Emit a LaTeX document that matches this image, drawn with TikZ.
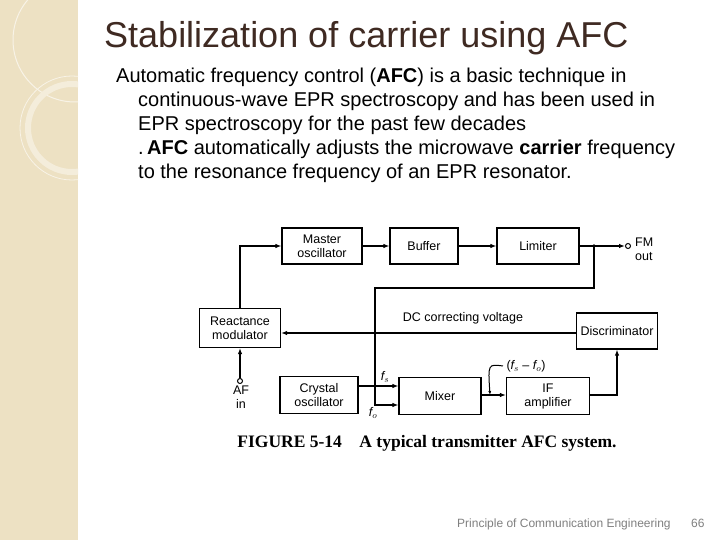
\documentclass[tikz,border=0pt]{standalone}
\usepackage{fontspec}
\setmainfont{Liberation Sans}
\newfontfamily\capfont{Liberation Serif}
\usetikzlibrary{arrows.meta}
\definecolor{strip}{HTML}{EDE1C3}
\definecolor{ttl}{HTML}{3F2A22}
\begin{document}
\begin{tikzpicture}[x=1pt,y=-1pt,
  blk/.style={draw,line width=1.2pt,minimum width=80pt,minimum height=37pt,align=center,font=\fontsize{12.5}{14}\selectfont,inner sep=1pt},
  con/.style={line width=1.3pt,-{Latex[open,length=6pt,width=4.5pt]}},
  ln/.style={line width=1.3pt},
  lbl/.style={font=\fontsize{12.5}{14}\selectfont}]
\useasboundingbox (0,0) rectangle (720,540);
\fill[white] (0,0) rectangle (720,540);
\fill[strip] (0,0) rectangle (78,540);
\begin{scope}
\clip (0,0) rectangle (78,540);
\draw[white!60!strip,line width=1pt] (75,40) circle (62);
\draw[white!40!strip,line width=6pt] (72,128) circle (44);
\draw[white!60!strip,line width=0.8pt] (72,128) circle (52);
\end{scope}
\node[anchor=base west,text=ttl,font=\fontsize{36}{40}\selectfont,inner sep=0] (title) at (104,48) {Stabilization of carrier using AFC};
\begin{scope}[every node/.style={anchor=base west,font=\fontsize{20}{22}\selectfont,inner sep=0}]
\node (l1) at (116,83) {Automatic frequency control (\textbf{AFC}) is a basic technique in};
\node (l2) at (138,107) {continuous-wave EPR spectroscopy and has been used in};
\node (l3) at (138,131) {EPR spectroscopy for the past few decades};
\node (l4) at (138,155) {.\,\textbf{AFC} automatically adjusts the microwave \textbf{carrier} frequency};
\node (l5) at (138,179) {to the resonance frequency of an EPR resonator.};
\end{scope}
% blocks
\node[blk,minimum width=80pt,minimum height=36pt] (mo) at (322,246) {Master\\oscillator};
\node[blk,minimum width=68pt,minimum height=36pt] (bu) at (424,246) {Buffer};
\node[blk,minimum width=82pt,minimum height=36pt] (li) at (538,246) {Limiter};
\node[blk,minimum width=81pt,minimum height=39pt] (rm) at (240,328) {Reactance\\modulator};
\node[blk,minimum width=81pt,minimum height=36pt] (di) at (617,331) {Discriminator};
\node[blk,minimum width=78pt,minimum height=37pt] (co) at (319,395) {Crystal\\oscillator};
\node[blk,minimum width=82pt,minimum height=37pt] (mx) at (440,396) {Mixer};
\node[blk,minimum width=83pt,minimum height=37pt] (ia) at (548,396) {IF\\amplifier};
\coordinate (jn) at (594,246);
\node[circle,draw,line width=1pt,inner sep=0,minimum size=5pt] (fm) at (628,246) {};
\node[lbl,align=left,anchor=west,inner sep=1pt] (fml) at (634,249) {FM\\out};
\node[circle,draw,line width=1pt,inner sep=0,minimum size=5pt] (af) at (240,381) {};
\node[lbl,align=center,anchor=north,inner sep=1pt] (afl) at (241,385) {AF\\in};
% connectors
\draw[con] (mo.east) -- (bu.west);
\draw[con] (bu.east) -- (li.west);
\draw[ln] (li.east) -- (jn);
\fill (jn) circle (1.8);
\draw[con] (jn) -- (fm.west);
\draw[con] (rm.north) |- (mo.west);
\draw[con] (af.north) -- (rm.south);
\draw[con] (jn) -- (594,288) -- (375,288) |- ([yshift=-9pt]mx.west);
\draw[con] ([yshift=9pt]co.east) -- ([yshift=10pt]mx.west);
\draw[con] ([yshift=1pt]mx.east) -- ([yshift=1pt]ia.west);
\draw[con] ([yshift=1pt]ia.east) -| (di.south);
\draw[con] ([yshift=-2pt]di.west) -- ([yshift=-2pt]di.west -| rm.east);
\node[lbl] (dc) at (463,318) {DC correcting voltage};
\node[lbl,font=\fontsize{12.5}{14}\selectfont\itshape] (fs) at (385,377) {f$_s$};
\node[lbl,font=\fontsize{12.5}{14}\selectfont\itshape] (f0) at (373,413) {f$_o$};
\node[lbl] (fd) at (526,366) {(\textit{f$_s$} -- \textit{f$_o$})};
\draw[line width=1pt,-{Latex[length=4pt,width=3pt]}] (fd.west) .. controls (488,364) .. (490,395);
\node[font=\capfont\bfseries\fontsize{17.5}{20}\selectfont] (cap) at (427,443) {FIGURE 5-14\quad A typical transmitter AFC system.};
\node[anchor=base west,text=gray,font=\fontsize{12}{13}\selectfont,inner sep=0] (ft) at (457,527) {Principle of Communication Engineering};
\node[anchor=base west,text=gray,font=\fontsize{12}{13}\selectfont,inner sep=0] (pg) at (691,527) {66};
\end{tikzpicture}
\end{document}
